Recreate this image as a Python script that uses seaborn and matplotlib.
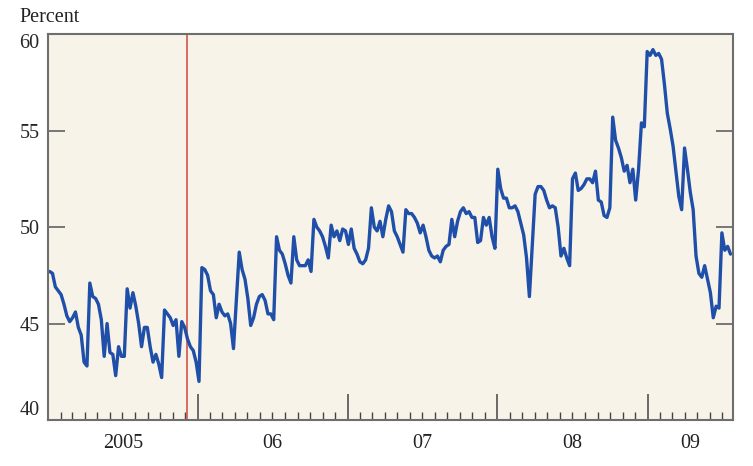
import pandas as pd
import numpy as np
import matplotlib
matplotlib.use("Agg")
import matplotlib.pyplot as plt
import matplotlib.dates as mdates
import seaborn as sns

# --- data (weekly readings, percent) ---
first_week = "2005-01-05"
pct_values = [
    47.7, 47.6, 46.9, 46.7, 46.5, 46.0, 45.4, 45.1, 45.3, 45.6,
    44.8, 44.4, 43.0, 42.8, 47.1, 46.4, 46.3, 46.0, 45.2, 43.3,
    45.0, 43.5, 43.4, 42.3, 43.8, 43.3, 43.3, 46.8, 45.8, 46.6,
    45.9, 45.0, 43.8, 44.8, 44.8, 43.8, 43.0, 43.4, 42.9, 42.2,
    45.7, 45.5, 45.3, 44.9, 45.2, 43.3, 45.1, 44.8, 44.2, 43.8,
    43.6, 43.0, 42.0, 47.9, 47.8, 47.5, 46.7, 46.5, 45.3, 46.0,
    45.6, 45.4, 45.5, 45.0, 43.7, 46.2, 48.7, 47.8, 47.3, 46.3,
    44.9, 45.3, 46.0, 46.4, 46.5, 46.2, 45.5, 45.5, 45.2, 49.5,
    48.8, 48.6, 48.1, 47.5, 47.1, 49.5, 48.3, 48.0, 48.0, 48.0,
    48.3, 47.7, 50.4, 50.0, 49.8, 49.5, 49.0, 48.4, 50.1, 49.5,
    49.8, 49.3, 49.9, 49.8, 49.1, 49.9, 48.9, 48.6, 48.2, 48.1,
    48.3, 48.9, 51.0, 50.0, 49.8, 50.3, 49.5, 50.4, 51.1, 50.8,
    49.8, 49.5, 49.1, 48.7, 50.9, 50.7, 50.7, 50.5, 50.2, 49.7,
    50.1, 49.5, 48.8, 48.5, 48.4, 48.5, 48.2, 48.8, 49.0, 49.1,
    50.4, 49.5, 50.3, 50.8, 51.0, 50.7, 50.8, 50.5, 50.5, 49.2,
    49.3, 50.5, 50.1, 50.5, 49.5, 48.9, 53.0, 52.0, 51.5, 51.5,
    51.0, 51.0, 51.1, 50.8, 50.2, 49.6, 48.4, 46.4, 49.0, 51.7,
    52.1, 52.1, 51.9, 51.4, 51.0, 51.1, 51.0, 50.0, 48.5, 48.9,
    48.4, 48.0, 52.5, 52.8, 51.9, 52.0, 52.2, 52.5, 52.5, 52.3,
    52.9, 51.4, 51.3, 50.6, 50.5, 51.0, 55.7, 54.5, 54.1, 53.6,
    52.9, 53.2, 52.3, 53.0, 51.4, 53.0, 55.4, 55.2, 59.1, 58.9,
    59.2, 58.9, 59.0, 58.7, 57.4, 55.9, 55.1, 54.2, 52.9, 51.6,
    50.9, 54.1, 53.0, 51.8, 50.9, 48.5, 47.6, 47.4, 48.0, 47.3,
    46.6, 45.3, 45.9, 45.8, 49.7, 48.8, 49.0, 48.6,
]
event_date = "2005-12-05"
x_start, x_end = "2005-01-01", "2009-07-28"
year_labels = ["2005", "06", "07", "08", "09"]
y_ticks = [40, 45, 50, 55, 60]

dates = pd.date_range(first_week, periods=len(pct_values), freq="W-WED")
df = pd.DataFrame({"date": dates, "pct": pct_values})

# --- style ---
sns.set_style("ticks")
plt.rcParams["font.family"] = ["Liberation Serif", "DejaVu Serif"]

bg = "#f7f3e9"
spine_col = "#6e6e6e"
line_col = "#1f4fa8"

fig = plt.figure(figsize=(7.53, 4.66), dpi=100)
ax = fig.add_axes([0.0637, 0.0987, 0.9097, 0.828])
ax.set_facecolor(bg)

sns.lineplot(data=df, x="date", y="pct", color=line_col, linewidth=2.4, ax=ax)
ax.axvline(pd.Timestamp(event_date), color="#d0473a", linewidth=1.1, zorder=1)

x0, x1 = pd.Timestamp(x_start), pd.Timestamp(x_end)
ax.set_xlim(x0, x1)
ax.set_ylim(40, 60)

# y axis
ax.set_yticks(y_ticks)
ax.set_yticklabels([str(t) for t in y_ticks])
ax.tick_params(axis="y", direction="in", length=12, width=1.1, color="#555555",
               right=True, labelright=False, labelsize=14.5, pad=6)
for lab in ax.get_yticklabels():
    if lab.get_text() == "60":
        lab.set_va("top")
    elif lab.get_text() == "40":
        lab.set_va("bottom")

# x axis: year ticks + month ticks, labels centred in each year
ax.xaxis.set_major_locator(mdates.YearLocator())
ax.xaxis.set_minor_locator(mdates.MonthLocator(bymonth=range(2, 13)))
ax.xaxis.set_major_formatter(plt.NullFormatter())
ax.tick_params(axis="x", which="major", direction="in", length=19, width=1.1, color="#444444")
ax.tick_params(axis="x", which="minor", direction="in", length=6, width=1.0, color="#444444")

trans = matplotlib.transforms.blended_transform_factory(ax.transData, ax.transAxes)
for i, lab in enumerate(year_labels):
    ys = max(pd.Timestamp(f"{2005 + i}-01-01"), x0)
    ye = min(pd.Timestamp(f"{2006 + i}-01-01"), x1)
    mid = ys + (ye - ys) / 2
    ax.text(mdates.date2num(mid), -0.06, lab, transform=trans, ha="center", va="center",
            fontsize=14.5, color="#222222")

ax.set_xlabel("")
ax.set_ylabel("")
for s in ax.spines.values():
    s.set_visible(True)
    s.set_color(spine_col)
    s.set_linewidth(1.5)

fig.text(19 / 753, 1 - 18 / 466, "Percent", ha="left", va="center", fontsize=14.5, color="#222222")

fig.savefig("out.png", dpi=100, facecolor="white")
